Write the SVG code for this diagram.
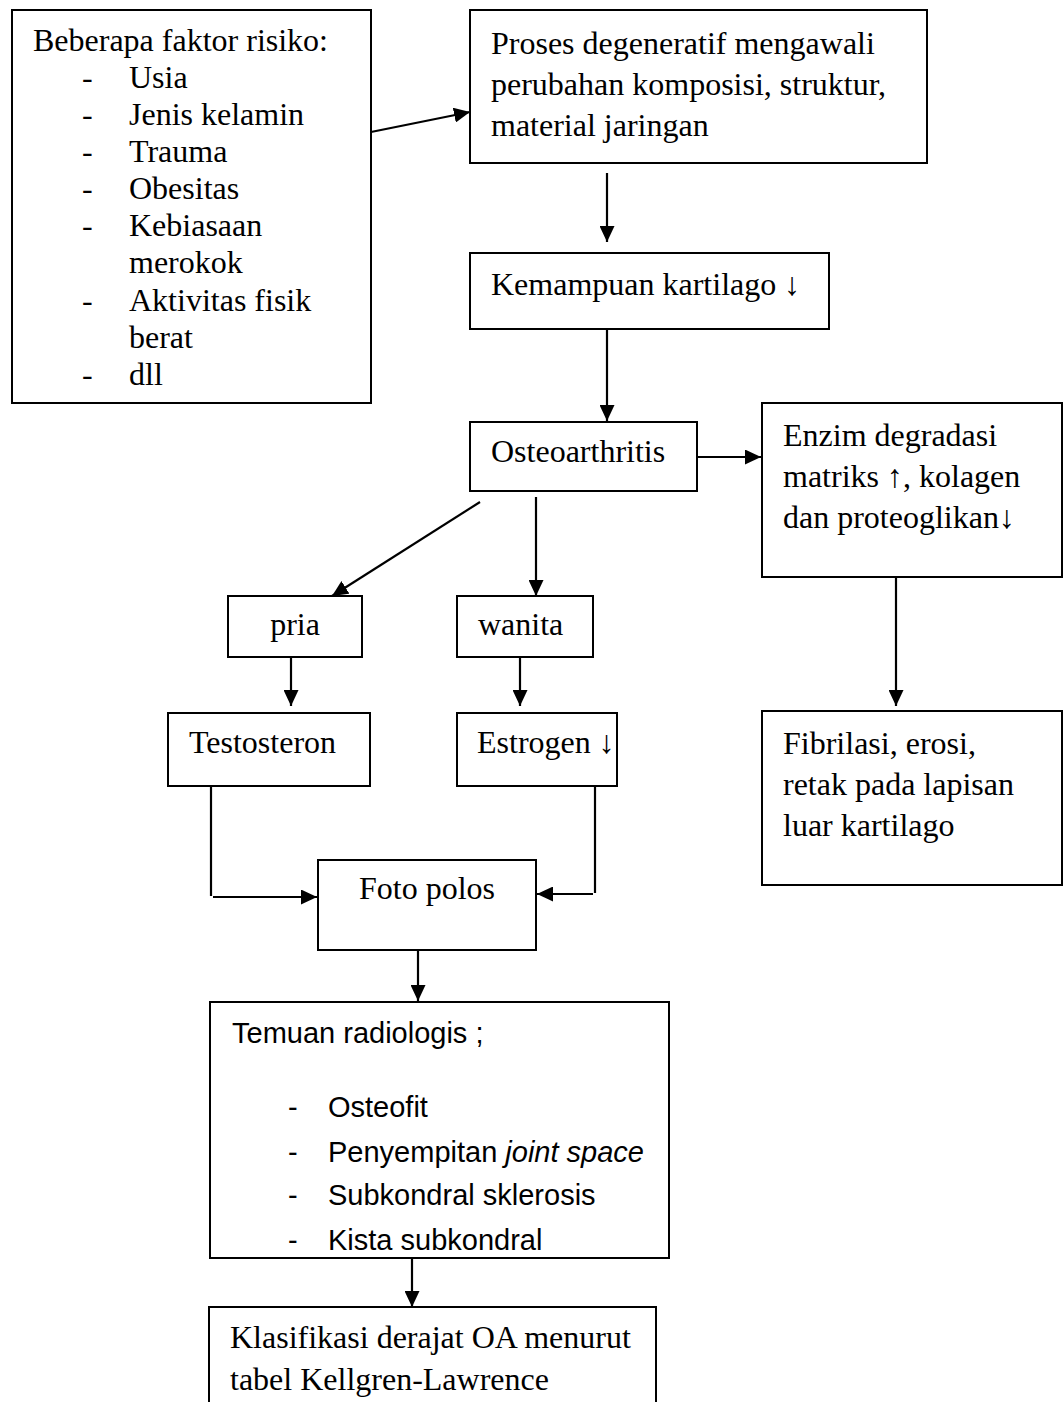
<svg xmlns="http://www.w3.org/2000/svg" width="1064" height="1402" viewBox="0 0 1064 1402">
<style>
.box{fill:#fff;stroke:#000;stroke-width:2}
.t{font-family:"Liberation Serif","Times New Roman",serif;font-size:32px;fill:#000}
.s{font-family:"Liberation Sans",Arial,sans-serif;font-size:29px;fill:#000}
.c{stroke:#000;stroke-width:2.2;fill:none}
</style>
<defs>
<marker id="ah" markerUnits="userSpaceOnUse" markerWidth="17" markerHeight="15" refX="16" refY="7.5" orient="auto">
<path d="M0,0 L16,7.5 L0,15 z" fill="#000"/>
</marker>
</defs>
<rect width="1064" height="1402" fill="#fff"/>

<g id="connectors">
<line class="c" x1="371" y1="132" x2="470" y2="112" marker-end="url(#ah)"/>
<line class="c" x1="607" y1="173" x2="607" y2="242" marker-end="url(#ah)"/>
<line class="c" x1="607" y1="329" x2="607" y2="421" marker-end="url(#ah)"/>
<line class="c" x1="697" y1="457" x2="761" y2="457" marker-end="url(#ah)"/>
<line class="c" x1="896" y1="577" x2="896" y2="706" marker-end="url(#ah)"/>
<line class="c" x1="480" y1="502" x2="332" y2="596" marker-end="url(#ah)"/>
<line class="c" x1="536" y1="497" x2="536" y2="596" marker-end="url(#ah)"/>
<line class="c" x1="291" y1="657" x2="291" y2="706" marker-end="url(#ah)"/>
<line class="c" x1="520" y1="657" x2="520" y2="706" marker-end="url(#ah)"/>
<line class="c" x1="211" y1="786" x2="211" y2="896"/>
<line class="c" x1="213" y1="897" x2="317" y2="897" marker-end="url(#ah)"/>
<line class="c" x1="595" y1="786" x2="595" y2="893"/>
<line class="c" x1="593" y1="894" x2="537" y2="894" marker-end="url(#ah)"/>
<line class="c" x1="418" y1="950" x2="418" y2="1001" marker-end="url(#ah)"/>
<line class="c" x1="412" y1="1258" x2="412" y2="1307" marker-end="url(#ah)"/>
</g>

<g id="faktor-risiko">
<rect class="box" x="12" y="10" width="359" height="393"/>
<text class="t" x="33" y="51">Beberapa faktor risiko:</text>
<text class="t" x="82" y="88">-</text><text class="t" x="129" y="88">Usia</text>
<text class="t" x="82" y="125">-</text><text class="t" x="129" y="125">Jenis kelamin</text>
<text class="t" x="82" y="162">-</text><text class="t" x="129" y="162">Trauma</text>
<text class="t" x="82" y="199">-</text><text class="t" x="129" y="199">Obesitas</text>
<text class="t" x="82" y="236">-</text><text class="t" x="129" y="236">Kebiasaan</text>
<text class="t" x="129" y="273">merokok</text>
<text class="t" x="82" y="311">-</text><text class="t" x="129" y="311">Aktivitas fisik</text>
<text class="t" x="129" y="348">berat</text>
<text class="t" x="82" y="385">-</text><text class="t" x="129" y="385">dll</text>
</g>

<g id="proses-degeneratif">
<rect class="box" x="470" y="10" width="457" height="153"/>
<text class="t" x="491" y="54">Proses degeneratif mengawali</text>
<text class="t" x="491" y="95">perubahan komposisi, struktur,</text>
<text class="t" x="491" y="136">material jaringan</text>
</g>

<g id="kemampuan-kartilago">
<rect class="box" x="470" y="253" width="359" height="76"/>
<text class="t" x="491" y="295">Kemampuan kartilago ↓</text>
</g>

<g id="osteoarthritis">
<rect class="box" x="470" y="422" width="227" height="69"/>
<text class="t" x="491" y="462">Osteoarthritis</text>
</g>

<g id="enzim">
<rect class="box" x="762" y="403" width="300" height="174"/>
<text class="t" x="783" y="446">Enzim degradasi</text>
<text class="t" x="783" y="487">matriks ↑, kolagen</text>
<text class="t" x="783" y="528">dan proteoglikan↓</text>
</g>

<g id="fibrilasi">
<rect class="box" x="762" y="711" width="300" height="174"/>
<text class="t" x="783" y="754">Fibrilasi, erosi,</text>
<text class="t" x="783" y="795">retak pada lapisan</text>
<text class="t" x="783" y="836">luar kartilago</text>
</g>

<g id="pria">
<rect class="box" x="228" y="596" width="134" height="61"/>
<text class="t" x="295" y="635" text-anchor="middle">pria</text>
</g>

<g id="wanita">
<rect class="box" x="457" y="596" width="136" height="61"/>
<text class="t" x="478" y="635">wanita</text>
</g>

<g id="testosteron">
<rect class="box" x="168" y="713" width="202" height="73"/>
<text class="t" x="189" y="753">Testosteron</text>
</g>

<g id="estrogen">
<rect class="box" x="457" y="713" width="160" height="73"/>
<text class="t" x="477" y="753">Estrogen ↓</text>
</g>

<g id="foto-polos">
<rect class="box" x="318" y="860" width="218" height="90"/>
<text class="t" x="359" y="899">Foto polos</text>
</g>

<g id="temuan-radiologis">
<rect class="box" x="210" y="1002" width="459" height="256"/>
<text class="s" x="232" y="1043">Temuan radiologis ;</text>
<text class="s" x="288" y="1117">-</text><text class="s" x="328" y="1117">Osteofit</text>
<text class="s" x="288" y="1162">-</text><text class="s" x="328" y="1162">Penyempitan <tspan font-style="italic">joint space</tspan></text>
<text class="s" x="288" y="1205">-</text><text class="s" x="328" y="1205">Subkondral sklerosis</text>
<text class="s" x="288" y="1250">-</text><text class="s" x="328" y="1250">Kista subkondral</text>
</g>

<g id="klasifikasi">
<rect class="box" x="209" y="1307" width="447" height="110"/>
<text class="t" x="230" y="1348">Klasifikasi derajat OA menurut</text>
<text class="t" x="230" y="1390">tabel Kellgren-Lawrence</text>
</g>
</svg>
